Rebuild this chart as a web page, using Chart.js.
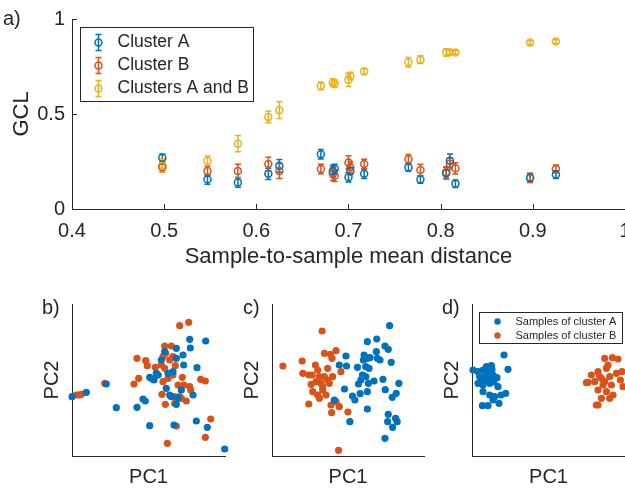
<!DOCTYPE html>
<html>
<head>
<meta charset="utf-8">
<script src="https://cdn.jsdelivr.net/npm/chart.js@4.4.0/dist/chart.umd.min.js"></script>
<style>
html, body { margin: 0; padding: 0; background: #fff; }
#fig { position: relative; width: 625px; height: 489px; overflow: hidden; font-family: "Liberation Sans", Arial, Helvetica, sans-serif; color: #262626; }
#fig canvas, #fig .lab { position: absolute; }
.lab { font-size: 20px; line-height: 20px; }
</style>
</head>
<body>
<div id="fig">
  <canvas id="gclChart" width="700" height="270" style="left:0px;top:0px"></canvas>
  <canvas id="pcaB" width="200" height="199" style="left:30px;top:290px"></canvas>
  <canvas id="pcaC" width="200" height="199" style="left:230px;top:290px"></canvas>
  <canvas id="pcaD" width="240" height="199" style="left:430px;top:290px"></canvas>
  <div class="lab" style="left:3px;top:8px">a)</div>
  <div class="lab" style="left:42px;top:297px">b)</div>
  <div class="lab" style="left:243px;top:297px">c)</div>
  <div class="lab" style="left:442px;top:297px">d)</div>
</div>
<script>
// a) GCL vs sample-to-sample mean distance
const distance = [0.498, 0.547, 0.58, 0.613, 0.625, 0.67, 0.683, 0.685, 0.70, 0.702, 0.717, 0.765, 0.778, 0.806, 0.81, 0.816, 0.897, 0.925];
const gclA  = [0.27, 0.155, 0.14, 0.185, 0.228, 0.288, 0.20, 0.21, 0.167, 0.20, 0.185, 0.219, 0.155, 0.188, 0.254, 0.133, 0.164, 0.181];
const errA  = [0.02, 0.025, 0.026, 0.03, 0.033, 0.025, 0.03, 0.025, 0.025, 0.02, 0.025, 0.02, 0.02, 0.03, 0.035, 0.02, 0.02, 0.02];
const gclB  = [0.22, 0.20, 0.20, 0.237, 0.20, 0.211, 0.185, 0.175, 0.245, 0.22, 0.237, 0.262, 0.205, 0.193, 0.238, 0.214, 0.164, 0.211];
const errB  = [0.025, 0.025, 0.036, 0.036, 0.039, 0.025, 0.035, 0.03, 0.035, 0.03, 0.025, 0.025, 0.03, 0.03, 0.03, 0.03, 0.025, 0.02];
const gclAB = [0.23, 0.254, 0.344, 0.484, 0.52, 0.648, 0.665, 0.66, 0.68, 0.70, 0.724, 0.772, 0.786, 0.824, 0.825, 0.824, 0.876, 0.881];
const errAB = [0.035, 0.025, 0.043, 0.03, 0.044, 0.02, 0.02, 0.02, 0.035, 0.02, 0.015, 0.025, 0.02, 0.02, 0.01, 0.01, 0.01, 0.01];

// b) PCA scores, samples of both clusters mixed
const bPc1A = [0, 14.3, 34.3, 44.3, 65, 71, 73.3, 77.7, 77.7, 82, 86, 89.3, 92.7, 94.3, 96, 97.7, 99.3, 101, 102, 104.3, 104.3, 104.3, 106, 109.3, 111, 111.7, 117.7, 118.3, 121, 124.3, 125, 133.7, 135.3, 152.7, 79.3, 84.3];
const bPc2A = [59.3, 63.7, 72, 48.3, 48.7, 57, 55, 30.3, 78.7, 76, 81, 96, 104.3, 67.7, 82.7, 61, 59.3, 84.3, 31, 107.7, 97.7, 51.7, 58.3, 66, 101, 91, 116.7, 108, 61, 35, 88.3, 115, 28.7, 7, 77.7, 82.7];
const bPc1B = [4.3, 7, 9.3, 32.7, 62, 66.7, 65, 73.7, 75.3, 83.3, 86, 89.3, 91, 92.7, 93.7, 92.7, 91, 96, 97.7, 99.3, 101, 101, 103.3, 90, 93.3, 102.7, 104.3, 106, 107.7, 109.3, 110.3, 112, 114.3, 117.7, 118.7, 107.7, 116.7, 104.3, 95.3, 128.7, 133.3, 138.7, 133.3, 102.7];
const bPc2B = [61, 61, 61.7, 72.7, 72, 77.7, 97.7, 95.3, 90.3, 88.7, 81, 91, 99.3, 110, 102.7, 87.7, 74.3, 77.7, 96, 110, 99.3, 81, 90.3, 61.7, 51.7, 59.3, 56, 71, 59.3, 57.7, 78.7, 71, 55, 69.3, 66, 130.3, 133.7, 30, 12.7, 76.7, 75, 37, 18.7, 52.7];

// c) partly separated
const cPc1A = [118.4, 96, 105.4, 113.7, 117, 74.4, 67.7, 75, 86, 92.7, 96, 92, 98.7, 105, 106, 108.7, 97.7, 94.4, 91, 89.4, 87, 94.4, 97, 102.7, 111.7, 120, 127.7, 73, 81, 83.4, 88.7, 96, 114, 125, 121, 96, 78.4, 117, 116.4, 126, 124.4, 121.4, 113.7, 62.7];
const cPc2A = [130.3, 114.3, 117, 110, 106.7, 100, 91, 90, 88.7, 101, 97.7, 96, 98.3, 104.3, 97.7, 96, 87.7, 89.3, 81, 76, 72, 79.3, 72.7, 75, 76.7, 93.7, 72.7, 67, 60, 56, 62.3, 64.3, 66.3, 62.7, 58.7, 47, 34.3, 41.7, 34.3, 34.3, 37.7, 28.7, 17.7, 56];
const cPc1B = [11, 50.4, 30.4, 31, 37, 40.4, 43.7, 46, 47.7, 52.7, 58.7, 64.4, 60.4, 56, 61, 69.4, 39.4, 41, 46, 49.4, 51, 47.7, 54.4, 57.7, 56, 52.7, 44.4, 37, 59.4, 64.4, 67.7, 60, 76.4, 67, 51];
const cPc2B = [90, 125, 95, 82.7, 81, 81, 91, 86, 79.3, 102.7, 101.7, 105.3, 97.7, 87.7, 79.3, 84.3, 71.7, 64.3, 61, 72.7, 66, 57.7, 61, 72.7, 76, 79.3, 74.3, 52, 51, 54.3, 49.3, 43.3, 44, 5.7, 69.3];

// d) well separated
const dPc1A = [1, 6, 11, 14.4, 19.4, 32, 36, 7.7, 12.7, 16, 21, 25, 6, 11, 17.7, 26, 11, 17.7, 22.7, 29, 33.7, 21, 27, 10.4, 16, 14.4, 9.4, 19.4, 17.7, 20, 13, 22];
const dPc2A = [86, 84.3, 86, 89.3, 90.3, 101, 86.7, 79.3, 79.3, 77.7, 81, 78.3, 72.7, 71, 72.7, 69.3, 64.3, 61, 59.3, 61, 62.7, 56, 52.7, 50.3, 50.3, 82.7, 76, 76, 84, 86.5, 75, 74];
const dPc1B = [132.7, 140.4, 146, 134.4, 126, 119.4, 116, 122.7, 129.4, 137.7, 144.4, 148.4, 131, 139.4, 126, 134.4, 141, 151, 129.4, 137.7, 126, 132.7, 136, 127.7, 150, 114.4, 124.4];
const dPc2B = [97.7, 98.3, 97, 87.7, 84.3, 81, 73.7, 74.3, 77.7, 79.3, 82.7, 76, 71, 71, 66, 64.3, 61, 69.3, 57.7, 57.7, 51, 74.3, 91, 79.3, 84.3, 73.3, 51];

const BLUE = '#0072BD', ORANGE = '#D95319', YELLOW = '#EDB120', INK = '#262626';
const FONT = '"Liberation Sans", Arial, Helvetica, sans-serif';

// vertical error bars with caps, drawn under the markers
const errorBars = {
    id: 'errorBars',
    beforeDatasetsDraw(chart) {
        const {ctx, scales: {x, y}} = chart;
        chart.data.datasets.forEach(ds => {
            ctx.save();
            ctx.strokeStyle = ds.borderColor;
            ctx.lineWidth = 1.5;
            ctx.beginPath();
            ds.data.forEach(p => {
                const px = x.getPixelForValue(p.x);
                const hi = y.getPixelForValue(p.y + p.err);
                const lo = y.getPixelForValue(p.y - p.err);
                ctx.moveTo(px, hi); ctx.lineTo(px, lo);
                ctx.moveTo(px - 3, hi); ctx.lineTo(px + 3, hi);
                ctx.moveTo(px - 3, lo); ctx.lineTo(px + 3, lo);
            });
            ctx.stroke();
            ctx.restore();
        });
    }
};

// matlab style ticks pointing into the axes
const inwardTicks = {
    id: 'inwardTicks',
    afterDatasetsDraw(chart, args, opts) {
        const {ctx, chartArea: a, scales: {x, y}} = chart;
        const len = opts.length || 5;
        ctx.save();
        ctx.strokeStyle = INK;
        ctx.lineWidth = 1;
        ctx.beginPath();
        x.ticks.forEach(t => {
            const px = Math.round(x.getPixelForValue(t.value)) + 0.5;
            ctx.moveTo(px, a.bottom); ctx.lineTo(px, a.bottom - len);
        });
        y.ticks.forEach(t => {
            const py = Math.round(y.getPixelForValue(t.value)) + 0.5;
            ctx.moveTo(a.left, py); ctx.lineTo(a.left + len, py);
        });
        ctx.stroke();
        ctx.restore();
    }
};

// legend box inside the axes
const boxLegend = {
    id: 'boxLegend',
    afterDraw(chart, args, o) {
        const {ctx, chartArea: a} = chart;
        const bx = Math.round(a.left + o.dx) + 0.5, by = Math.round(a.top + o.dy) + 0.5;
        ctx.save();
        ctx.fillStyle = '#fff';
        ctx.fillRect(bx, by, o.w, o.h);
        ctx.strokeStyle = INK;
        ctx.lineWidth = 1;
        ctx.strokeRect(bx, by, o.w, o.h);
        ctx.font = o.size + 'px ' + FONT;
        ctx.textBaseline = 'middle';
        ctx.textAlign = 'left';
        chart.data.datasets.forEach((ds, i) => {
            const cy = by + o.first + i * o.gap;
            const cx = bx + o.iconX;
            if (o.icon === 'errorbar') {
                ctx.strokeStyle = ds.borderColor;
                ctx.lineWidth = 1.5;
                ctx.beginPath();
                ctx.moveTo(cx, cy - 8); ctx.lineTo(cx, cy + 8);
                ctx.moveTo(cx - 3, cy - 8); ctx.lineTo(cx + 3, cy - 8);
                ctx.moveTo(cx - 3, cy + 8); ctx.lineTo(cx + 3, cy + 8);
                ctx.stroke();
                ctx.beginPath();
                ctx.arc(cx, cy, 3.5, 0, Math.PI * 2);
                ctx.stroke();
            } else {
                ctx.fillStyle = ds.backgroundColor;
                ctx.beginPath();
                ctx.arc(cx, cy, 3.2, 0, Math.PI * 2);
                ctx.fill();
            }
            ctx.fillStyle = INK;
            ctx.fillText(ds.label, bx + o.textX, cy);
        });
        ctx.restore();
    }
};

function withErr(ys, errs) {
    return distance.map((d, i) => ({x: d, y: ys[i], err: errs[i]}));
}

function gclSet(label, ys, errs, color) {
    return {
        label: label,
        data: withErr(ys, errs),
        borderColor: color,
        backgroundColor: 'rgba(0,0,0,0)',
        borderWidth: 1.5,
        pointRadius: 3.5,
        pointHoverRadius: 3.5,
        clip: false
    };
}

// 1.0 -> "1", 0.50 -> "0.5"
const plainNum = v => String(Number(v.toFixed(2)));

new Chart(document.getElementById('gclChart'), {
    type: 'scatter',
    data: {
        datasets: [
            gclSet('Cluster A', gclA, errA, BLUE),
            gclSet('Cluster B', gclB, errB, ORANGE),
            gclSet('Clusters A and B', gclAB, errAB, YELLOW)
        ]
    },
    plugins: [errorBars, inwardTicks, boxLegend],
    options: {
        responsive: false,
        animation: false,
        events: [],
        devicePixelRatio: 1,
        layout: { padding: { top: 16, right: 75, left: 0, bottom: 0 } },
        scales: {
            x: {
                type: 'linear',
                min: 0.4,
                max: 1,
                ticks: { stepSize: 0.1, color: INK, padding: 10, maxRotation: 0, callback: plainNum, font: { size: 20, family: FONT } },
                grid: { display: false, drawTicks: false },
                border: { display: true, color: INK, width: 1 },
                title: { display: true, text: 'Sample-to-sample mean distance', color: INK, padding: 0, font: { size: 22, family: FONT } },
                afterFit(s) { s.height = 61; }
            },
            y: {
                min: 0,
                max: 1,
                ticks: { stepSize: 0.5, color: INK, padding: 7, callback: plainNum, font: { size: 20, family: FONT } },
                grid: { display: false, drawTicks: false },
                border: { display: true, color: INK, width: 1 },
                title: { display: true, text: 'GCL', color: INK, padding: { top: 9, bottom: 0 }, font: { size: 22, family: FONT } },
                afterFit(s) { s.width = 72; }
            }
        },
        plugins: {
            legend: { display: false },
            tooltip: { enabled: false },
            inwardTicks: { length: 5 },
            boxLegend: { dx: 8, dy: 8, w: 173, h: 74, size: 17.5, first: 15, gap: 23, iconX: 18, textX: 37, icon: 'errorbar' }
        }
    }
});

function pcaChart(id, pc1A, pc2A, pc1B, pc2B, rightPad, legend) {
    const pts = (xs, ys) => xs.map((v, i) => ({x: v, y: ys[i]}));
    const opts = {
        responsive: false,
        animation: false,
        events: [],
        devicePixelRatio: 1,
        layout: { padding: { top: 14, right: rightPad, left: 0, bottom: 0 } },
        scales: {
            x: {
                type: 'linear',
                min: 0,
                max: 153,
                ticks: { display: false },
                grid: { display: false, drawTicks: false },
                border: { display: true, color: INK, width: 1 },
                title: { display: true, text: 'PC1', color: INK, padding: 0, font: { size: 20, family: FONT } },
                afterFit(s) { s.height = 33; }
            },
            y: {
                min: 0,
                max: 152,
                ticks: { display: false },
                grid: { display: false, drawTicks: false },
                border: { display: true, color: INK, width: 1 },
                title: { display: true, text: 'PC2', color: INK, padding: { top: 10.5, bottom: 0 }, font: { size: 20, family: FONT } },
                afterFit(s) { s.width = 42; }
            }
        },
        plugins: {
            legend: { display: false },
            tooltip: { enabled: false },
            boxLegend: legend || false
        }
    };
    new Chart(document.getElementById(id), {
        type: 'scatter',
        data: {
            datasets: [
                { label: 'Samples of cluster A', data: pts(pc1A, pc2A), backgroundColor: BLUE, borderWidth: 0, pointRadius: 3.6, clip: false },
                { label: 'Samples of cluster B', data: pts(pc1B, pc2B), backgroundColor: ORANGE, borderWidth: 0, pointRadius: 3.6, clip: false }
            ]
        },
        plugins: legend ? [boxLegend] : [],
        options: opts
    });
}

pcaChart('pcaB', bPc1A, bPc2A, bPc1B, bPc2B, 5);
pcaChart('pcaC', cPc1A, cPc2A, cPc1B, cPc2B, 6);
pcaChart('pcaD', dPc1A, dPc2A, dPc1B, dPc2B, 45,
    { dx: 7, dy: 8, w: 143, h: 31, size: 11, first: 9, gap: 14, iconX: 18, textX: 36, icon: 'dot' });
</script>
</body>
</html>
